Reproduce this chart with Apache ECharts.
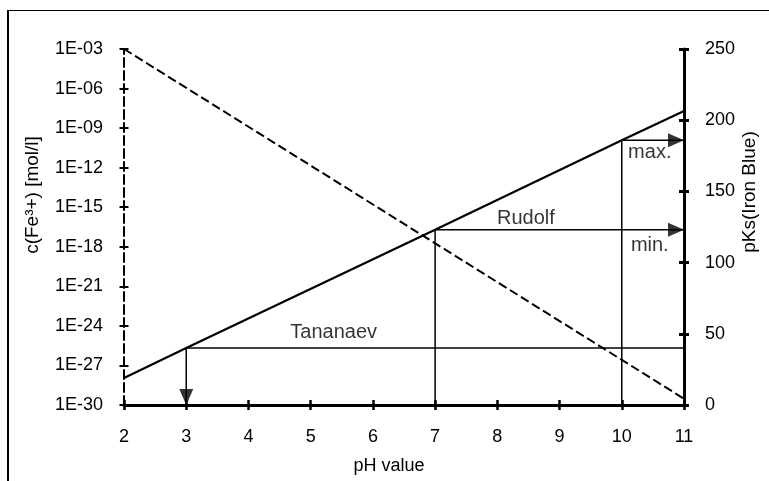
<!DOCTYPE html>
<html>
<head>
<meta charset="utf-8">
<script src="https://cdn.jsdelivr.net/npm/echarts@6/dist/echarts.min.js"></script>
<style>
  html, body { margin: 0; padding: 0; background: #fff; }
  #chart { width: 769px; height: 481px; }
</style>
</head>
<body>
<div id="chart"></div>
<script>
// pH range of the x axis
const phTicks = [2, 3, 4, 5, 6, 7, 8, 9, 10, 11];

// Solubility product of Iron Blue (right axis) versus pH
const pksPH = [2, 3, 7, 10, 11];
const pksValues = [19, 40, 123, 186, 206.5];

// Free Fe3+ concentration in mol/l (left axis, decades) versus pH
const fePH = [2, 11];
const feValues = [1e-3, 3e-30];

// Concentration axis: decades shown, 1E-30 ... 1E-03
const concMin = 1e-30;
const concMax = 1e-3;

// Literature markers: pH and pKs where each reference line starts
const tananaev = { ph: 3, pks: 40 };
const rudolf = { ph: 7, pks: 123 };
const rudolfMax = { ph: 10, pks: 186 };

// Annotation texts and their anchor points (pH, pKs)
const noteTexts = ['Tananaev', 'Rudolf', 'max.', 'min.'];
const notePH = [5.37, 8.46, 10.45, 10.45];
const notePKs = [51, 131, 177, 112];

const FONT = '"Liberation Sans", Arial, Helvetica, sans-serif';
const BLACK = '#000';

const chart = echarts.init(document.getElementById('chart'), null, { renderer: 'canvas' });

// the left axis runs in powers of ten; labels show them as 1E-xx
function expLabel(e) {
  const n = Math.round(e);
  return '1E' + (n < 0 ? '-' : '+') + String(Math.abs(n)).padStart(2, '0');
}

const pksLine = pksPH.map((x, i) => [x, pksValues[i]]);
const feLine = fePH.map((x, i) => [x, Math.log10(feValues[i])]);

const thin = { color: BLACK, width: 1.5 };
function segment(a, b) {
  return {
    type: 'line', xAxisIndex: 0, yAxisIndex: 1, data: [a, b],
    symbol: 'none', lineStyle: thin, silent: true, z: 3
  };
}
function arrowHead(p, rot, offset) {
  return {
    type: 'scatter', xAxisIndex: 0, yAxisIndex: 1, data: [p],
    symbol: 'triangle', symbolSize: [14, 16], symbolRotate: rot,
    symbolOffset: offset, itemStyle: { color: BLACK }, silent: true, z: 6
  };
}

const xBase = { type: 'value', min: phTicks[0], max: phTicks[phTicks.length - 1], interval: 1, position: 'bottom' };
const concBase = { type: 'value', min: Math.log10(concMin), max: Math.log10(concMax), interval: 3, position: 'left' };
const pksBase = { type: 'value', min: 0, max: 250, interval: 50, position: 'right' };

const option = {
  animation: false,
  backgroundColor: '#fff',
  grid: { left: 124, right: 85, top: 49, bottom: 76 },
  xAxis: [
    Object.assign({}, xBase, {
      axisLine: { show: true, onZero: false, lineStyle: { color: BLACK, width: 3 } },
      axisTick: { show: true, length: 5, lineStyle: { color: BLACK, width: 2.5 } },
      axisLabel: { color: BLACK, fontSize: 18, fontFamily: FONT, margin: 23 },
      splitLine: { show: false }
    }),
    Object.assign({}, xBase, {
      axisLine: { show: false },
      axisTick: { show: true, inside: true, length: 5, lineStyle: { color: BLACK, width: 2.5 } },
      axisLabel: { show: false }, splitLine: { show: false }
    })
  ],
  yAxis: [
    Object.assign({}, concBase, {
      axisLine: { show: true, onZero: false, lineStyle: { color: BLACK, width: 2, type: [9, 4] } },
      axisTick: { show: true, length: 4.5, lineStyle: { color: BLACK, width: 2 } },
      axisLabel: { color: BLACK, fontSize: 18, fontFamily: FONT, margin: 21, formatter: expLabel },
      splitLine: { show: false }
    }),
    Object.assign({}, pksBase, {
      axisLine: { show: true, onZero: false, lineStyle: { color: BLACK, width: 3 } },
      axisTick: { show: true, length: 5, lineStyle: { color: BLACK, width: 3 } },
      axisLabel: { color: BLACK, fontSize: 18, fontFamily: FONT, margin: 21 },
      splitLine: { show: false }
    }),
    Object.assign({}, concBase, {
      axisLine: { show: false },
      axisTick: { show: true, inside: true, length: 4.5, lineStyle: { color: BLACK, width: 2 } },
      axisLabel: { show: false }, splitLine: { show: false }
    }),
    Object.assign({}, pksBase, {
      axisLine: { show: false },
      axisTick: { show: true, inside: true, length: 5, lineStyle: { color: BLACK, width: 3 } },
      axisLabel: { show: false }, splitLine: { show: false }
    })
  ],
  series: [
    // c(Fe3+) – dashed
    {
      type: 'line', xAxisIndex: 0, yAxisIndex: 0, data: feLine, symbol: 'none',
      lineStyle: { color: BLACK, width: 2, type: [9, 4] }, z: 4, silent: true
    },
    // pKs(Iron Blue) – solid
    {
      type: 'line', xAxisIndex: 0, yAxisIndex: 1, data: pksLine, symbol: 'none',
      lineStyle: { color: BLACK, width: 2.2 }, z: 5, silent: true
    },
    // Tananaev: horizontal reference and drop to the pH axis
    segment([tananaev.ph, tananaev.pks], [11, tananaev.pks]),
    segment([tananaev.ph, tananaev.pks], [tananaev.ph, 0]),
    arrowHead([tananaev.ph, 0], 180, [0, -8]),
    // Rudolf (min.)
    segment([rudolf.ph, 0], [rudolf.ph, rudolf.pks]),
    segment([rudolf.ph, rudolf.pks], [11, rudolf.pks]),
    arrowHead([11, rudolf.pks], -90, [-8, 0]),
    // Rudolf (max.)
    segment([rudolfMax.ph, 0], [rudolfMax.ph, rudolfMax.pks]),
    segment([rudolfMax.ph, rudolfMax.pks], [11, rudolfMax.pks]),
    arrowHead([11, rudolfMax.pks], -90, [-8, 0]),
    // Annotation texts
    {
      type: 'scatter', xAxisIndex: 0, yAxisIndex: 1, symbolSize: 1, silent: true, z: 7,
      itemStyle: { color: 'rgba(0,0,0,0)' },
      data: noteTexts.map((t, i) => [notePH[i], notePKs[i], t]),
      label: {
        show: true, position: 'inside', color: BLACK, fontSize: 20, fontFamily: FONT,
        formatter: p => p.value[2]
      }
    }
  ],
  graphic: [
    // outer frame (left and top edges)
    { type: 'line', shape: { x1: 8, y1: 10, x2: 8, y2: 481 }, style: { stroke: BLACK, lineWidth: 2 } },
    { type: 'line', shape: { x1: 7, y1: 10.5, x2: 769, y2: 10.5 }, style: { stroke: BLACK, lineWidth: 1 } },
    // axis titles
    {
      type: 'text', x: 33, y: 195, rotation: Math.PI / 2,
      style: { text: 'c(Fe³+) [mol/l]', fill: BLACK, font: '19px ' + FONT, align: 'center', verticalAlign: 'middle' }
    },
    {
      type: 'text', x: 750, y: 192, rotation: Math.PI / 2,
      style: { text: 'pKs(Iron Blue)', fill: BLACK, font: '19px ' + FONT, align: 'center', verticalAlign: 'middle' }
    },
    {
      type: 'text', x: 389, y: 466,
      style: { text: 'pH value', fill: BLACK, font: '18px ' + FONT, align: 'center', verticalAlign: 'middle' }
    }
  ]
};

chart.setOption(option);
</script>
</body>
</html>
